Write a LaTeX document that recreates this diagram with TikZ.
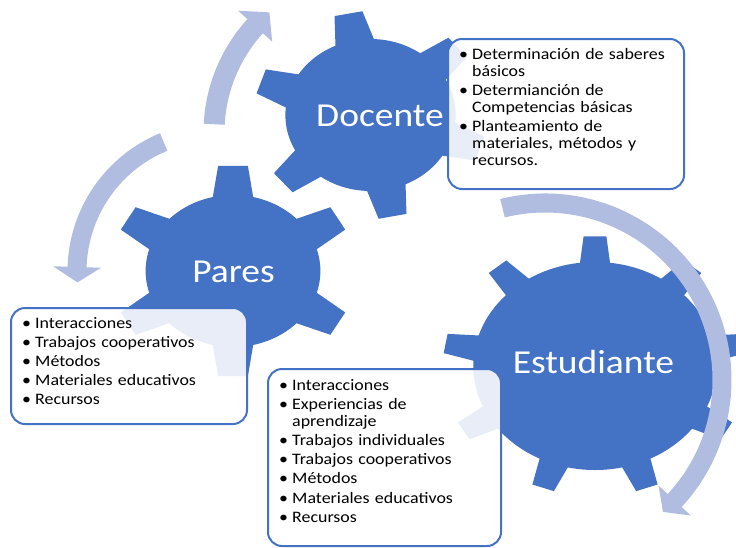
\documentclass[tikz,border=0pt]{standalone}
\usepackage{fontspec}
\setmainfont{Carlito}[FakeStretch=1.12]
\usepackage{tikz}
\usetikzlibrary{positioning}
\definecolor{gearblue}{RGB}{68,114,196}
\definecolor{arrowblue}{RGB}{176,189,224}

% gear: center, teeth, rotation, body radius, tip radius, tip half angle, base half angle, xscale
\newcommand{\drawgear}[8]{%
  \begin{scope}[shift={#1}, xscale=#8]
    \fill[gearblue] (0,0) circle[radius=#4pt];
    \foreach \k in {1,...,#2}{
      \pgfmathsetmacro{\gearAng}{#3+360/#2*(\k-1)}
      \pgfmathsetmacro{\gearBase}{#4-5}
      \fill[gearblue] ({\gearAng-#7}:\gearBase) -- ({\gearAng-#6}:#5) -- ({\gearAng+#6}:#5) -- ({\gearAng+#7}:\gearBase) -- cycle;
    }
  \end{scope}}

% circular arrow: center, mid radius, start angle, head base angle, tip angle, band half width, head half width
\newcommand{\drawarrow}[7]{%
  \begin{scope}[shift={#1}]
    \pgfmathsetmacro{\arOut}{#2+#6}
    \pgfmathsetmacro{\arIn}{#2-#6}
    \pgfmathsetmacro{\arHo}{#2+#7}
    \pgfmathsetmacro{\arHi}{#2-#7}
    \fill[arrowblue] (#3:\arOut) arc[start angle=#3, end angle=#4, radius=\arOut pt]
      -- (#4:\arHo) -- (#5:#2) -- (#4:\arHi) -- (#4:\arIn)
      arc[start angle=#4, end angle=#3, radius=\arIn pt] -- cycle;
  \end{scope}}

% one bullet item
\newcommand{\bitem}[1]{\hangindent=13pt\hangafter=1\noindent\hbox to 13pt{\textbullet\hfil}#1\par}

\begin{document}
\begin{tikzpicture}[
    x=1pt, y=1pt,
    listbox/.style={rectangle, draw=gearblue, line width=2pt, rounded corners=14pt, fill=white, fill opacity=0.88, text opacity=1, anchor=north west},
    listtext/.style={anchor=base west, inner sep=0pt, align=left, font=\fontsize{16}{17}\selectfont, execute at begin node={\setlength{\parskip}{2.2pt}}},
    gearlabel/.style={anchor=base, inner sep=0pt, text=white, font=\fontsize{33.5}{40}\selectfont}
  ]
\useasboundingbox (0,0) rectangle (736,-547);
\clip (0,0) rectangle (736,-547);

% Gears
\drawgear{(370.5,-115)}{6}{101}{76}{104}{7}{15}{1.12}
\drawgear{(233,-271)}{6}{90}{76}{106}{7}{15}{1.15}
\drawgear{(595,-366)}{9}{90}{104}{130}{4.3}{7.8}{1.17}

% Circular arrows
\drawarrow{(372,-132.5)}{158}{177}{137.7}{130.5}{10.5}{23}
\drawarrow{(217,-271.4)}{140}{112.4}{178.2}{184.5}{9.5}{24}
\drawarrow{(545,-380)}{177}{103.9}{-42.9}{-48.2}{9.5}{22}

% Gear labels
\node[gearlabel] (docente) at (380,-126) {Docente};
\node[gearlabel] (pares) at (233.5,-282) {Pares};
\node[gearlabel] (estudiante) at (593.5,-373) {Estudiante};

% Boxes
\node[listbox, minimum width=236pt, minimum height=150pt] (docbox) at (447,-38) {};
\node[listbox, minimum width=236pt, minimum height=116pt] (parbox) at (10,-307) {};
\node[listbox, minimum width=233pt, minimum height=177pt] (estbox) at (267,-368) {};

% Lists
\node[listtext, text width=215pt] (doclist) at ([shift={(12,-21)}]docbox.north west) {%
  \bitem{Determinación de saberes\newline básicos}%
  \bitem{Determianción de\newline Competencias básicas}%
  \bitem{Planteamiento de\newline materiales, métodos y\newline recursos.}};
\node[listtext, text width=215pt] (parlist) at ([shift={(12,-21)}]parbox.north west) {%
  \bitem{Interacciones}%
  \bitem{Trabajos cooperativos}%
  \bitem{Métodos}%
  \bitem{Materiales educativos}%
  \bitem{Recursos}};
\node[listtext, text width=210pt] (estlist) at ([shift={(12,-22)}]estbox.north west) {%
  \bitem{Interacciones}%
  \bitem{Experiencias de\newline aprendizaje}%
  \bitem{Trabajos individuales}%
  \bitem{Trabajos cooperativos}%
  \bitem{Métodos}%
  \bitem{Materiales educativos}%
  \bitem{Recursos}};

\end{tikzpicture}
\end{document}
